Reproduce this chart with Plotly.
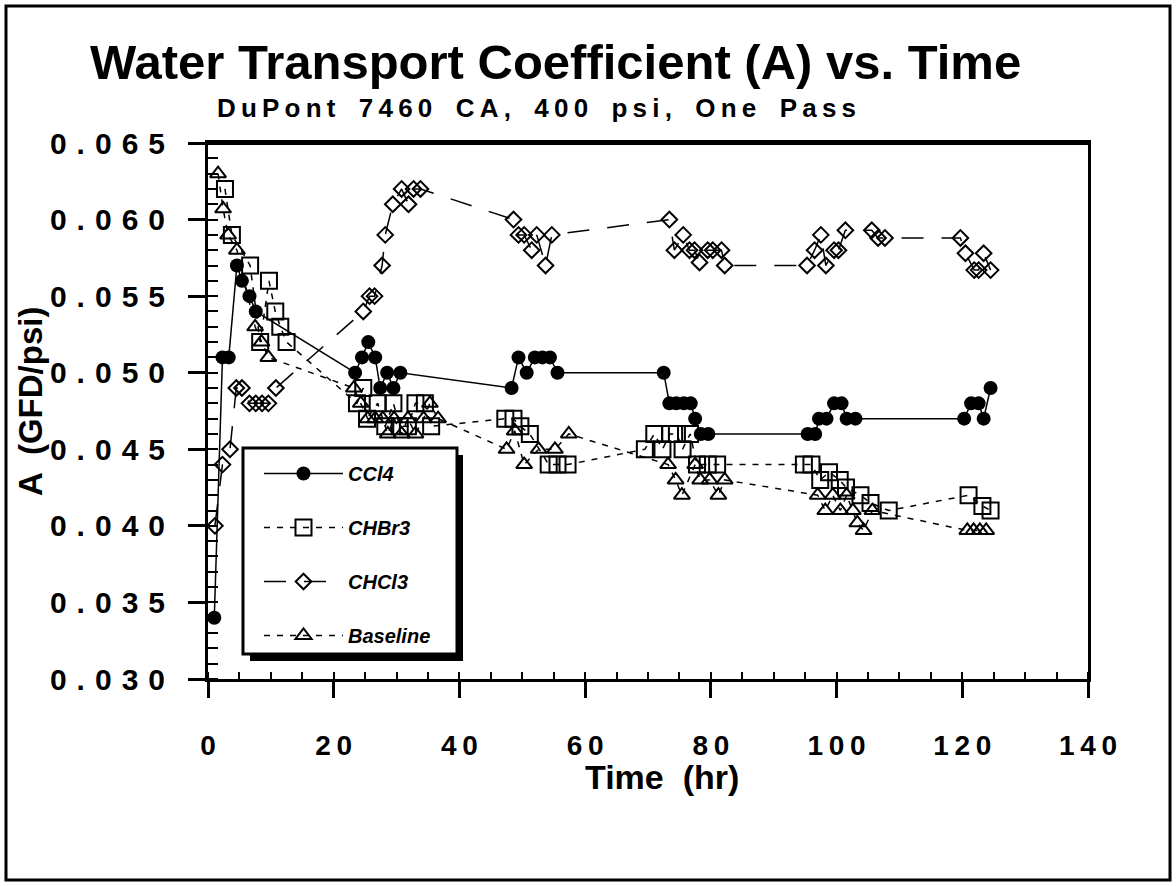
import plotly.graph_objects as go

# ---------------- data ----------------
ccl4_t = [1.0, 2.3, 3.3, 4.6, 5.4, 6.6, 7.6,
          23.4, 24.5, 25.5, 26.6, 27.4, 28.5, 29.5, 30.6,
          48.3, 49.4, 50.7, 52.0, 53.2, 54.4, 55.6,
          72.5, 73.4, 74.5, 75.7, 76.8, 77.5, 78.4, 79.6,
          95.4, 96.6, 97.2, 98.4, 99.6, 100.8, 101.6, 103.0,
          120.3, 121.4, 122.6, 123.4, 124.5]
ccl4_a = [0.034, 0.051, 0.051, 0.057, 0.056, 0.055, 0.054,
          0.050, 0.051, 0.052, 0.051, 0.049, 0.050, 0.049, 0.050,
          0.049, 0.051, 0.050, 0.051, 0.051, 0.051, 0.050,
          0.050, 0.048, 0.048, 0.048, 0.048, 0.047, 0.046, 0.046,
          0.046, 0.046, 0.047, 0.047, 0.048, 0.048, 0.047, 0.047,
          0.047, 0.048, 0.048, 0.047, 0.049]

chbr3_t = [2.7, 3.8, 6.7, 8.3, 9.7, 10.7, 11.5, 12.5,
           23.7, 24.7, 25.3, 27.0, 28.2, 29.5, 30.5, 31.8, 33.0, 34.5, 35.5,
           47.3, 48.6, 49.7, 51.2, 54.2, 55.6, 57.2,
           69.5, 71.0, 72.3, 73.5, 74.6, 75.5, 76.7, 77.8, 79.5, 81.0,
           94.8, 96.0, 97.4, 98.8, 100.5, 101.5, 103.8, 105.4, 108.3,
           121.0, 123.2, 124.5]
chbr3_a = [0.062, 0.059, 0.057, 0.052, 0.056, 0.054, 0.053, 0.052,
           0.048, 0.049, 0.047, 0.048, 0.0465, 0.048, 0.0465, 0.0465, 0.048, 0.048, 0.0465,
           0.047, 0.047, 0.0465, 0.046, 0.044, 0.044, 0.044,
           0.045, 0.046, 0.045, 0.046, 0.046, 0.045, 0.046, 0.044, 0.044, 0.044,
           0.044, 0.044, 0.043, 0.0435, 0.043, 0.0425, 0.042, 0.0415, 0.041,
           0.042, 0.0413, 0.041]

chcl3_t = [1.1, 2.3, 3.5, 4.5, 5.4, 6.6, 7.6, 8.6, 9.6, 10.8,
           24.7, 25.7, 26.5, 27.7, 28.2, 29.4, 30.8, 31.9, 32.7, 33.8,
           48.6, 49.4, 50.3, 51.5, 52.3, 53.7, 54.7,
           73.4, 74.2, 75.6, 76.6, 77.4, 78.2, 79.5, 80.3, 81.7, 82.2,
           95.3, 96.5, 97.5, 98.3, 99.6, 100.3, 101.4, 105.6, 106.6, 107.7,
           119.7, 120.5, 121.9, 122.6, 123.4, 124.5]
chcl3_a = [0.040, 0.044, 0.045, 0.049, 0.049, 0.048, 0.048, 0.048, 0.048, 0.049,
           0.054, 0.055, 0.055, 0.057, 0.059, 0.061, 0.062, 0.061, 0.062, 0.062,
           0.060, 0.059, 0.059, 0.058, 0.059, 0.057, 0.059,
           0.060, 0.058, 0.059, 0.058, 0.058, 0.0572, 0.058, 0.058, 0.058, 0.057,
           0.057, 0.058, 0.059, 0.057, 0.058, 0.058, 0.0593, 0.0593, 0.0588, 0.0588,
           0.0588, 0.0578, 0.0567, 0.0567, 0.0578, 0.0567]

base_t = [1.6, 2.4, 3.2, 4.6, 7.5, 8.5, 9.6,
          23.2, 24.3, 25.4, 26.6, 27.8, 28.6, 29.6, 30.8, 31.8, 33.0, 34.3, 35.3, 36.6,
          47.5, 48.8, 50.3, 52.6, 55.2, 57.4,
          73.2, 74.4, 75.4, 77.5, 78.3, 79.8, 81.2, 82.2,
          97.0, 98.2, 99.4, 100.6, 101.6, 102.6, 103.3, 104.3, 105.7,
          120.8, 121.8, 122.8, 123.8]
base_a = [0.063, 0.0607, 0.059, 0.058, 0.053, 0.052, 0.051,
          0.049, 0.048, 0.047, 0.047, 0.047, 0.046, 0.047, 0.046, 0.047, 0.046, 0.047, 0.048, 0.047,
          0.045, 0.0462, 0.044, 0.045, 0.045, 0.046,
          0.044, 0.043, 0.042, 0.044, 0.043, 0.043, 0.042, 0.043,
          0.042, 0.041, 0.042, 0.041, 0.042, 0.041, 0.0402, 0.0397, 0.041,
          0.0397, 0.0397, 0.0397, 0.0397]

series_names = ["CCl4", "CHBr3", "CHCl3", "Baseline"]

x_ticks = [0, 20, 40, 60, 80, 100, 120, 140]
y_ticks = [0.030, 0.035, 0.040, 0.045, 0.050, 0.055, 0.060, 0.065]

title_text = "Water Transport Coefficient (A) vs. Time"
subtitle_text = "DuPont 7460 CA, 400 psi, One Pass"
x_title = "Time  (hr)"
y_title = "A  (GFD/psi)"

# ---------------- layout geometry (pixels) ----------------
W, H = 1176, 886
L, R, T, B = 208, 1088, 143, 679
PW, PH = R - L, B - T


def px(xp):
    return (xp - L) / PW


def py(yp):
    return (B - yp) / PH


def spaced(s, sp="\u2009"):
    out = []
    for ch in s:
        if ch == " ":
            out.append("\u2002")
        else:
            out.append(ch)
    return sp.join(out)


FONT = "Liberation Sans"

fig = go.Figure()

styles = [
    dict(line=dict(color="black", width=1.5),
         marker=dict(symbol="circle", size=14, color="black", line=dict(width=0))),
    dict(line=dict(color="black", width=1.5, dash="6px,7px"),
         marker=dict(symbol="square-open", size=16, color="black", line=dict(width=2))),
    dict(line=dict(color="black", width=1.5, dash="22px,18px"),
         marker=dict(symbol="diamond-open", size=12, color="black", line=dict(width=2))),
    dict(line=dict(color="black", width=1.5, dash="6px,7px"),
         marker=dict(symbol="triangle-up-open", size=14, color="black", line=dict(width=2))),
]
datasets = [(ccl4_t, ccl4_a), (chbr3_t, chbr3_a), (chcl3_t, chcl3_a), (base_t, base_a)]

for i, ((t, a), name, st) in enumerate(zip(datasets, series_names, styles)):
    fig.add_trace(go.Scatter(x=t, y=a, name=name, mode="lines+markers",
                             legendgroup=f"g{i}", **st))

x_tick_font = dict(family=FONT, size=28, color="black", weight="bold")
y_tick_font = dict(family=FONT, size=30, color="black", weight="bold")

fig.update_layout(
    width=W, height=H,
    margin=dict(l=L, r=W - R, t=T, b=H - B, pad=0),
    paper_bgcolor="white", plot_bgcolor="white",
    showlegend=True,
    xaxis=dict(range=[0, 140], showline=True, linewidth=3, linecolor="black", mirror=True,
               showgrid=False, zeroline=False,
               ticks="outside", ticklen=16, tickwidth=3, tickcolor="black",
               tickmode="array", tickvals=x_ticks,
               ticktext=[spaced(str(v)) for v in x_ticks],
               tickfont=x_tick_font, ticklabelstandoff=23,
               minor=dict(ticks="inside", ticklen=7, tickwidth=2, tickcolor="black",
                          tick0=0, dtick=5, showgrid=False)),
    yaxis=dict(range=[0.030, 0.065], showline=True, linewidth=3, linecolor="black", mirror=True,
               showgrid=False, zeroline=False,
               ticks="outside", ticklen=17, tickwidth=3, tickcolor="black",
               tickmode="array", tickvals=y_ticks,
               ticktext=[spaced(f"{v:.3f}", "\u2004") for v in y_ticks],
               tickfont=y_tick_font, ticklabelstandoff=17,
               minor=dict(ticks="inside", ticklen=10, tickwidth=2, tickcolor="black",
                          tick0=0.030, dtick=0.001, showgrid=False)),
    xaxis2=dict(overlaying="x", anchor="y", side="bottom", range=[0, 140],
                showline=False, showgrid=False, zeroline=False,
                ticks="inside", ticklen=7, tickwidth=3, tickcolor="black",
                tickmode="array", tickvals=x_ticks, showticklabels=False),
    yaxis2=dict(overlaying="y", anchor="x", side="left", range=[0.030, 0.065],
                showline=False, showgrid=False, zeroline=False,
                ticks="inside", ticklen=17, tickwidth=3, tickcolor="black",
                tickmode="array", tickvals=y_ticks, showticklabels=False),
    legend=dict(x=px(259), y=py(454), xanchor="left", yanchor="top",
                bgcolor="rgba(0,0,0,0)", borderwidth=0,
                font=dict(family=FONT, size=20, color="black", weight="bold", style="italic"),
                traceorder="grouped", tracegroupgap=25, itemwidth=79),
    shapes=[
        # thicker top frame line of the plot area
        dict(type="line", xref="paper", yref="paper", x0=0, x1=1, y0=1, y1=1,
             line=dict(color="black", width=4), layer="above"),
        # legend drop shadow
        dict(type="rect", xref="paper", yref="paper", x0=px(250), x1=px(463),
             y0=py(661), y1=py(455), fillcolor="black", line=dict(width=0), layer="above"),
        # legend box
        dict(type="rect", xref="paper", yref="paper", x0=px(243), x1=px(457),
             y0=py(654), y1=py(448), fillcolor="white", line=dict(color="black", width=3),
             layer="above"),
        # outer frame
        dict(type="rect", xref="paper", yref="paper", x0=px(6), x1=px(1170),
             y0=py(880), y1=py(6), line=dict(color="black", width=3), layer="above"),
    ],
    annotations=[
        dict(text=title_text, xref="paper", yref="paper", x=px(555), y=py(62),
             showarrow=False, xanchor="center", yanchor="middle",
             font=dict(family=FONT, size=49, color="black", weight="bold")),
        dict(text=spaced(subtitle_text), xref="paper", yref="paper",
             x=px(536), y=py(108), showarrow=False, xanchor="center", yanchor="middle",
             font=dict(family=FONT, size=26, color="black", weight="bold")),
        dict(text=x_title, xref="paper", yref="paper", x=px(662), y=py(777),
             showarrow=False, xanchor="center", yanchor="middle",
             font=dict(family=FONT, size=34, color="black", weight="bold")),
        dict(text=y_title, xref="paper", yref="paper", x=px(30), y=py(402),
             showarrow=False, xanchor="center", yanchor="middle", textangle=-90,
             font=dict(family=FONT, size=33, color="black", weight="bold")),
    ],
)

fig.write_html("out.html", config={"displayModeBar": False},
               post_script="document.body.style.margin='0';")
